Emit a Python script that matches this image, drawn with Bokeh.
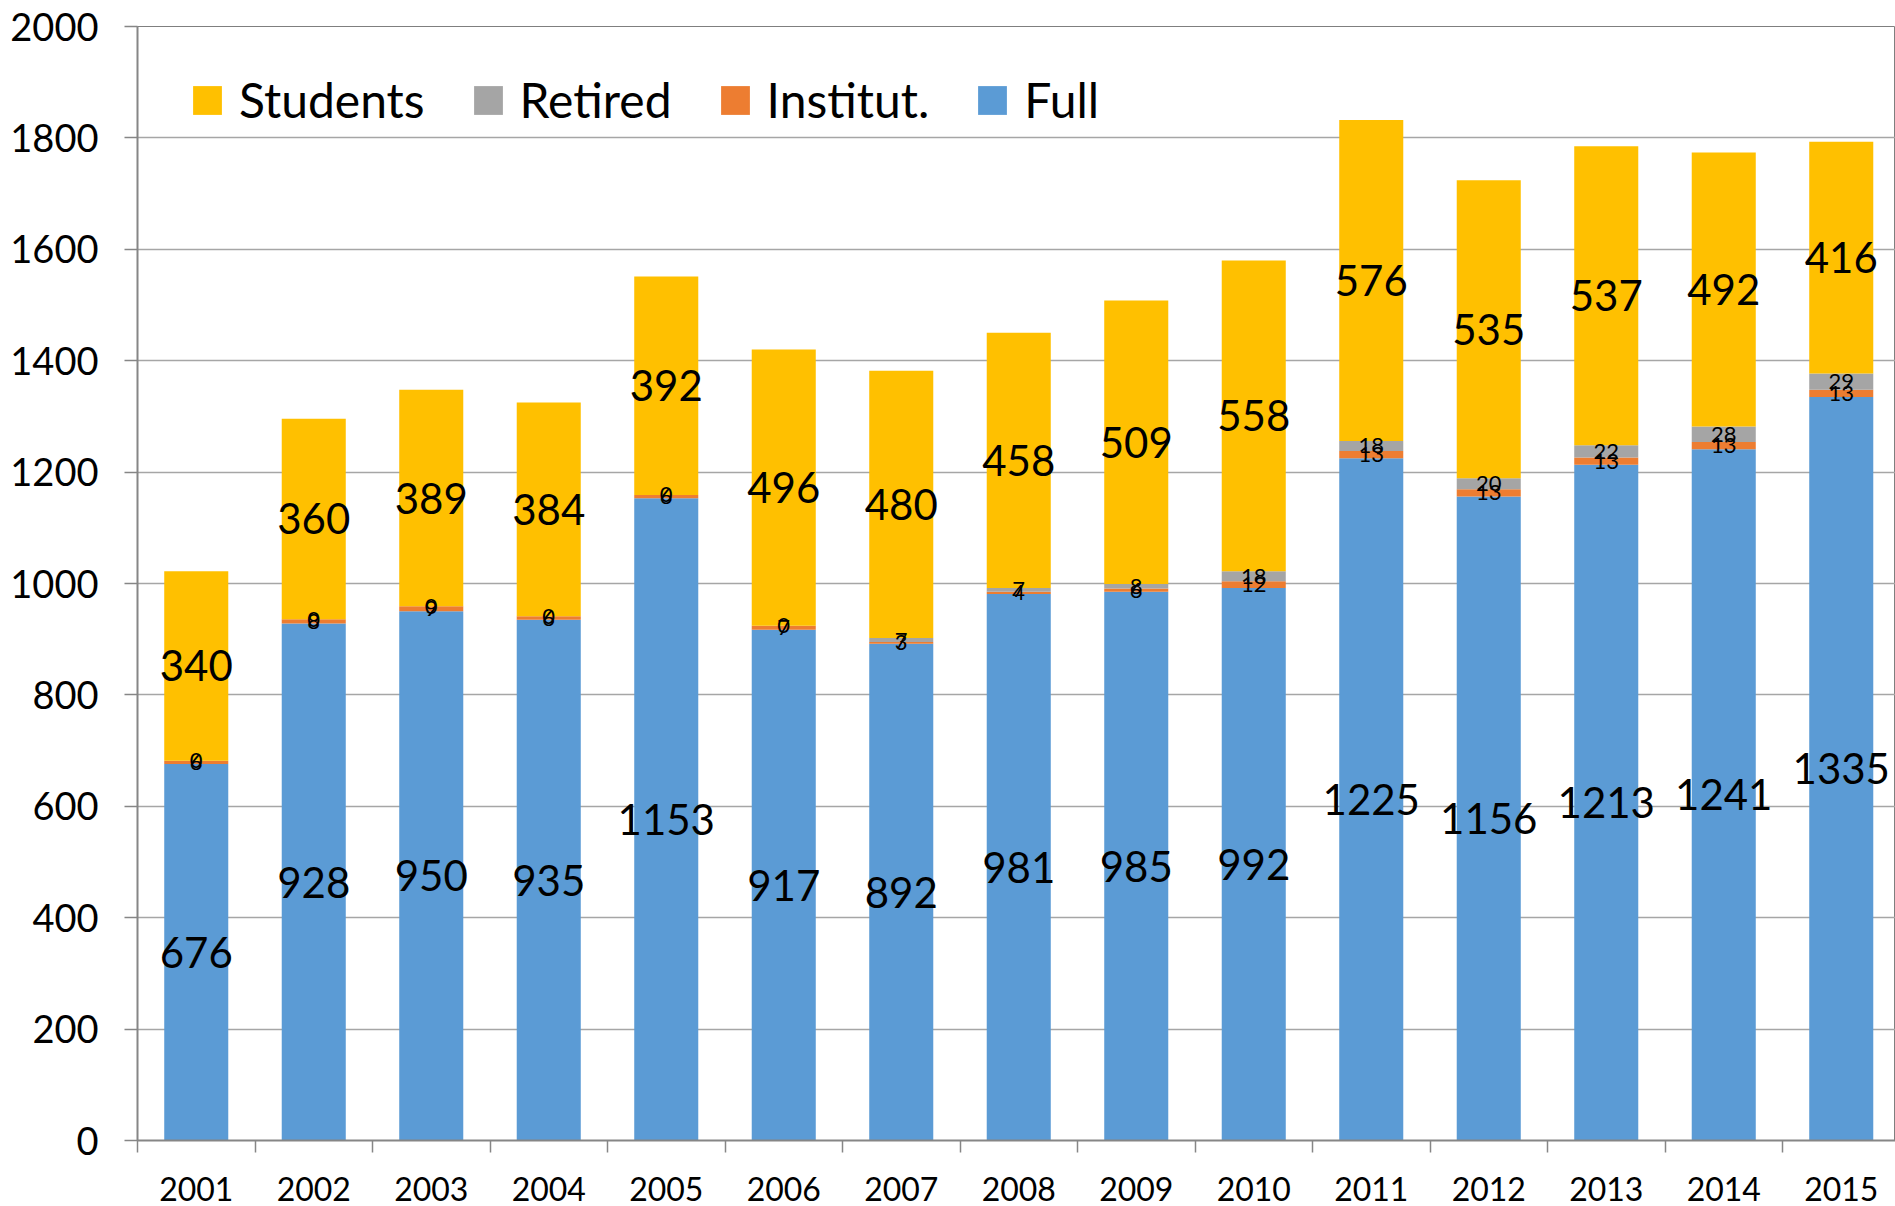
from bokeh.plotting import figure
from bokeh.models import ColumnDataSource, Range1d, FixedTicker, Legend, LegendItem, CustomJSTickFormatter
from bokeh.embed import file_html
from bokeh.resources import INLINE
from bokeh.core.properties import value

years = [2001, 2002, 2003, 2004, 2005, 2006, 2007, 2008, 2009, 2010, 2011, 2012, 2013, 2014, 2015]
full = [676, 928, 950, 935, 1153, 917, 892, 981, 985, 992, 1225, 1156, 1213, 1241, 1335]
institut = [6, 8, 9, 6, 6, 7, 3, 4, 6, 12, 13, 13, 13, 13, 13]
retired = [0, 0, 0, 0, 0, 0, 7, 7, 8, 18, 18, 20, 22, 28, 29]
students = [340, 360, 389, 384, 392, 496, 480, 458, 509, 558, 576, 535, 537, 492, 416]
series = ["Full", "Institut", "Retired", "Students"]
legend_labels = {"Full": "Full", "Institut": "Institut.", "Retired": "Retired", "Students": "Students"}
colors = {"Full": "#5B9BD5", "Institut": "#ED7D31", "Retired": "#A5A5A5", "Students": "#FFC000"}
y_ticks = [0, 200, 400, 600, 800, 1000, 1200, 1400, 1600, 1800, 2000]

FONT = "Lato"
W, H = 1895, 1206
LEFT, TOP, PX_PER_YEAR = 137, 26, 117.5

data = {"year": years, "Full": full, "Institut": institut, "Retired": retired, "Students": students}
# label centres derived from the stacked values
b0 = [0] * len(years)
b1 = [a + b for a, b in zip(b0, full)]
b2 = [a + b for a, b in zip(b1, institut)]
b3 = [a + b for a, b in zip(b2, retired)]
data["y_full"] = [a + v / 2 for a, v in zip(b0, full)]
data["y_inst"] = [a + v / 2 for a, v in zip(b1, institut)]
data["y_ret"] = [a + v / 2 for a, v in zip(b2, retired)]
data["y_stu"] = [a + v / 2 for a, v in zip(b3, students)]
for k in series:
    data["t_" + k] = [str(v) for v in data[k]]
src = ColumnDataSource(data)

p = figure(width=W, height=H, output_backend="svg", toolbar_location=None,
           x_range=Range1d(min(years) - 0.5, min(years) - 0.5 + (W - LEFT) / PX_PER_YEAR),
           y_range=Range1d(0, 2000),
           min_border_left=LEFT, min_border_top=TOP, min_border_right=0,
           min_border_bottom=H - TOP - 1114)
p.background_fill_color = "white"
p.border_fill_color = "white"
p.outline_line_color = "#7f7f7f"
p.outline_line_width = 1

renderers = p.vbar_stack(series, x="year", width=0.545, source=src,
                         color=[colors[s] for s in series], line_color=None)

# axes
p.yaxis.ticker = FixedTicker(ticks=y_ticks)
p.yaxis.major_label_text_font = FONT
p.yaxis.major_label_text_font_size = "38px"
p.yaxis.major_label_text_color = "black"
p.yaxis.axis_line_color = "#868686"
p.yaxis.axis_line_width = 2
p.yaxis.major_tick_line_color = "#868686"
p.yaxis.major_tick_line_width = 1.5
p.yaxis.major_tick_out = 13
p.yaxis.major_tick_in = 0
p.yaxis.minor_tick_line_color = None
p.yaxis.major_label_standoff = 26

p.xaxis.ticker = FixedTicker(ticks=years, minor_ticks=[y + 0.5 for y in [min(years) - 1] + years])
p.xaxis.major_label_text_font = FONT
p.xaxis.major_label_text_font_size = "32px"
p.xaxis.major_label_text_color = "black"
p.xaxis.axis_line_color = "#868686"
p.xaxis.axis_line_width = 2
p.xaxis.major_tick_line_color = None
p.xaxis.major_tick_out = 0
p.xaxis.major_tick_in = 0
p.xaxis.minor_tick_line_color = "#868686"
p.xaxis.minor_tick_line_width = 1.5
p.xaxis.minor_tick_out = 12
p.xaxis.minor_tick_in = 0
p.xaxis.major_label_standoff = 24
p.xaxis.formatter = CustomJSTickFormatter(code="return String(Math.round(tick));")

p.xgrid.grid_line_color = None
p.ygrid.ticker = FixedTicker(ticks=y_ticks)
p.ygrid.grid_line_color = "#a6a6a6"
p.ygrid.grid_line_width = 1.5

# data labels
p.text(x="year", y="y_full", text="t_Full", source=src, text_font=value(FONT),
       text_font_size="42px", text_align="center", text_baseline="middle", text_color="black")
p.text(x="year", y="y_stu", text="t_Students", source=src, text_font=value(FONT),
       text_font_size="42px", text_align="center", text_baseline="middle", text_color="black")
p.text(x="year", y="y_inst", text="t_Institut", source=src, text_font=value(FONT),
       text_font_size="22px", text_align="center", text_baseline="middle", text_color="black")
p.text(x="year", y="y_ret", text="t_Retired", source=src, text_font=value(FONT),
       text_font_size="22px", text_align="center", text_baseline="middle", text_color="black")

rmap = dict(zip(series, renderers))
items = [LegendItem(label=legend_labels[s], renderers=[rmap[s]]) for s in ["Students", "Retired", "Institut", "Full"]]
legend = Legend(items=items, orientation="horizontal", location=(52, 1012),
                glyph_width=36, glyph_height=36, label_standoff=14, spacing=45,
                label_text_font=FONT, label_text_font_size="48px", label_text_color="black",
                padding=0, margin=0, border_line_color=None, background_fill_alpha=0)
p.add_layout(legend)

open("out.html", "w").write(file_html(p, INLINE))
